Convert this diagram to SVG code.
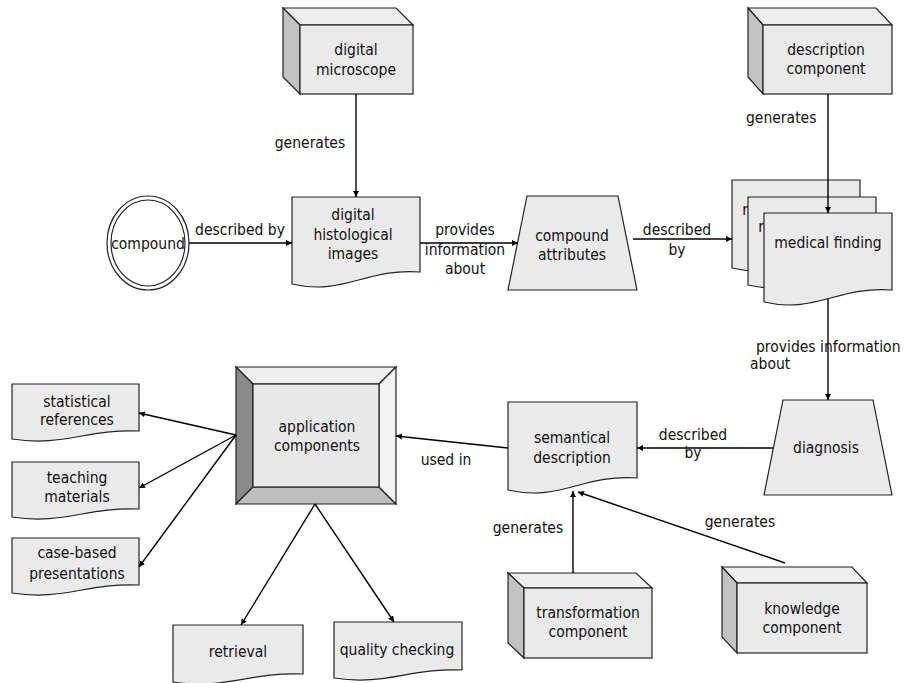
<svg xmlns="http://www.w3.org/2000/svg" width="909" height="683" viewBox="0 0 909 683">
<defs>
<marker id="ah" viewBox="0 0 10 10" refX="10" refY="5" markerWidth="6" markerHeight="6" markerUnits="userSpaceOnUse" orient="auto">
<path d="M0,0 L10,5 L0,10 z" fill="#000"/>
</marker>
</defs>
<style>
text{font-family:"DejaVu Sans Condensed","DejaVu Sans",sans-serif;font-stretch:condensed;font-size:15.5px;fill:#111;text-anchor:middle}
.l{text-anchor:start}
.sh{fill:#eaeaea;stroke:#222;stroke-width:1.2}
.top{fill:#efefef;stroke:#222;stroke-width:1.2}
.side{fill:#c2c2c2;stroke:#222;stroke-width:1.2}
.c path{stroke:#000;stroke-width:1.4;fill:none;marker-end:url(#ah)}
</style>
<rect width="909" height="683" fill="#fff"/>

<g id="digital-microscope">
<polygon class="top" points="283,8 396,8 413,25 300,25"/>
<polygon class="side" points="283,8 300,25 300,94 283,77"/>
<rect class="sh" x="300" y="25" width="113" height="69"/>
<text x="356" y="55">digital</text>
<text x="356" y="75">microscope</text>
</g>

<g id="compound">
<ellipse cx="148" cy="243" rx="41" ry="47" fill="#fff" stroke="#222" stroke-width="1.2"/>
<ellipse cx="148" cy="243" rx="37" ry="43" fill="#fff" stroke="#222" stroke-width="1.2"/>
<text x="148" y="249">compound</text>
</g>

<g id="digital-histological-images">
<path class="sh" d="M292,197 H420 V272 C366,268 343,296 292,284 Z"/>
<text x="353" y="220">digital</text>
<text x="353" y="240">histological</text>
<text x="353" y="259">images</text>
</g>

<g id="compound-attributes">
<polygon class="sh" points="527,196 618,196 637,290 508,290"/>
<text x="572" y="241">compound</text>
<text x="572" y="260">attributes</text>
</g>

<g id="description-component">
<polygon class="top" points="748,8 876,8 892,25 763,25"/>
<polygon class="side" points="748,8 763,25 763,94 748,77"/>
<rect class="sh" x="763" y="25" width="129" height="69"/>
<text x="826" y="55">description</text>
<text x="826" y="74">component</text>
</g>

<g id="medical-finding">
<path class="sh" d="M732,180 H860 V256 C806,252 783,280 732,268 Z"/>
<text x="796" y="215">medical finding</text>
<path class="sh" d="M748,197 H876 V273 C822,269 799,297 748,285 Z"/>
<text x="812" y="232">medical finding</text>
<path class="sh" d="M764,213 H892 V290 C838,286 815,314 764,302 Z"/>
<text x="828" y="248">medical finding</text>
</g>

<g id="diagnosis">
<polygon class="sh" points="783,400 873,400 892,495 764,495"/>
<text x="826" y="453">diagnosis</text>
</g>

<g id="semantical-description">
<path class="sh" d="M508,402 H637 V478 C583,474 560,502 508,490 Z"/>
<text x="572" y="443">semantical</text>
<text x="572" y="463">description</text>
</g>

<g id="application-components">
<polygon points="236,367 396,367 379,384 253,384" fill="#efefef" stroke="#222" stroke-width="1.2"/>
<polygon points="236,367 253,384 253,487 236,504" fill="#8a8a8a" stroke="#222" stroke-width="1.2"/>
<polygon points="236,504 253,487 379,487 396,504" fill="#bdbdbd" stroke="#222" stroke-width="1.2"/>
<polygon points="396,367 396,504 379,487 379,384" fill="#f3f3f3" stroke="#222" stroke-width="1.2"/>
<rect x="253" y="384" width="126" height="103" fill="#e8e8e8" stroke="#222" stroke-width="1.2"/>
<text x="317" y="432">application</text>
<text x="317" y="451">components</text>
</g>

<g id="statistical-references">
<path class="sh" d="M12,384 H139 V431 C86,429 63,447 12,439 Z"/>
<text x="77" y="407">statistical</text>
<text x="77" y="425">references</text>
</g>

<g id="teaching-materials">
<path class="sh" d="M12,462 H139 V509 C86,507 63,525 12,517 Z"/>
<text x="77" y="483">teaching</text>
<text x="77" y="502">materials</text>
</g>

<g id="case-based-presentations">
<path class="sh" d="M12,538 H139 V585 C86,583 63,601 12,593 Z"/>
<text x="77" y="558">case-based</text>
<text x="77" y="579">presentations</text>
</g>

<g id="retrieval">
<path class="sh" d="M173,625 H303 V674 C248,672 225,690 173,682 Z"/>
<text x="238" y="657">retrieval</text>
</g>

<g id="quality-checking">
<path class="sh" d="M334,622 H462 V670 C408,668 385,686 334,678 Z"/>
<text x="397" y="655">quality checking</text>
</g>

<g id="transformation-component">
<polygon class="top" points="508,573 636,573 652,588 524,588"/>
<polygon class="side" points="508,573 524,588 524,658 508,643"/>
<rect class="sh" x="524" y="588" width="128" height="70"/>
<text x="588" y="618">transformation</text>
<text x="588" y="637">component</text>
</g>

<g id="knowledge-component">
<polygon class="top" points="722,567 852,567 867,583 737,583"/>
<polygon class="side" points="722,567 737,583 737,653 722,637"/>
<rect class="sh" x="737" y="583" width="130" height="70"/>
<text x="802" y="614">knowledge</text>
<text x="802" y="633">component</text>
</g>

<g id="connectors" class="c">
<path d="M356,94 V197"/>
<path d="M189,243 H292"/>
<path d="M420,243 H518"/>
<path d="M633,239 H732"/>
<path d="M828,94 V213"/>
<path d="M828,299 V400"/>
<path d="M773,448 H637"/>
<path d="M508,448 L396,436"/>
<path d="M236,435 L139,413"/>
<path d="M236,435 L139,488"/>
<path d="M236,435 L139,567"/>
<path d="M315,504 L241,625"/>
<path d="M315,504 L394,622"/>
<path d="M573,573 V491"/>
<path d="M785,563 L578,492"/>
</g>

<g id="labels">
<text x="310" y="148">generates</text>
<text x="240" y="235">described by</text>
<text x="465" y="235">provides</text>
<text x="465" y="255">information</text>
<text x="465" y="274">about</text>
<text x="677" y="235">described</text>
<text x="677" y="255">by</text>
<text class="l" x="746" y="123">generates</text>
<text class="l" x="756" y="352">provides information</text>
<text class="l" x="750" y="369">about</text>
<text x="693" y="440">described</text>
<text x="693" y="458">by</text>
<text x="446" y="465">used in</text>
<text x="528" y="533">generates</text>
<text x="740" y="527">generates</text>
</g>
</svg>
